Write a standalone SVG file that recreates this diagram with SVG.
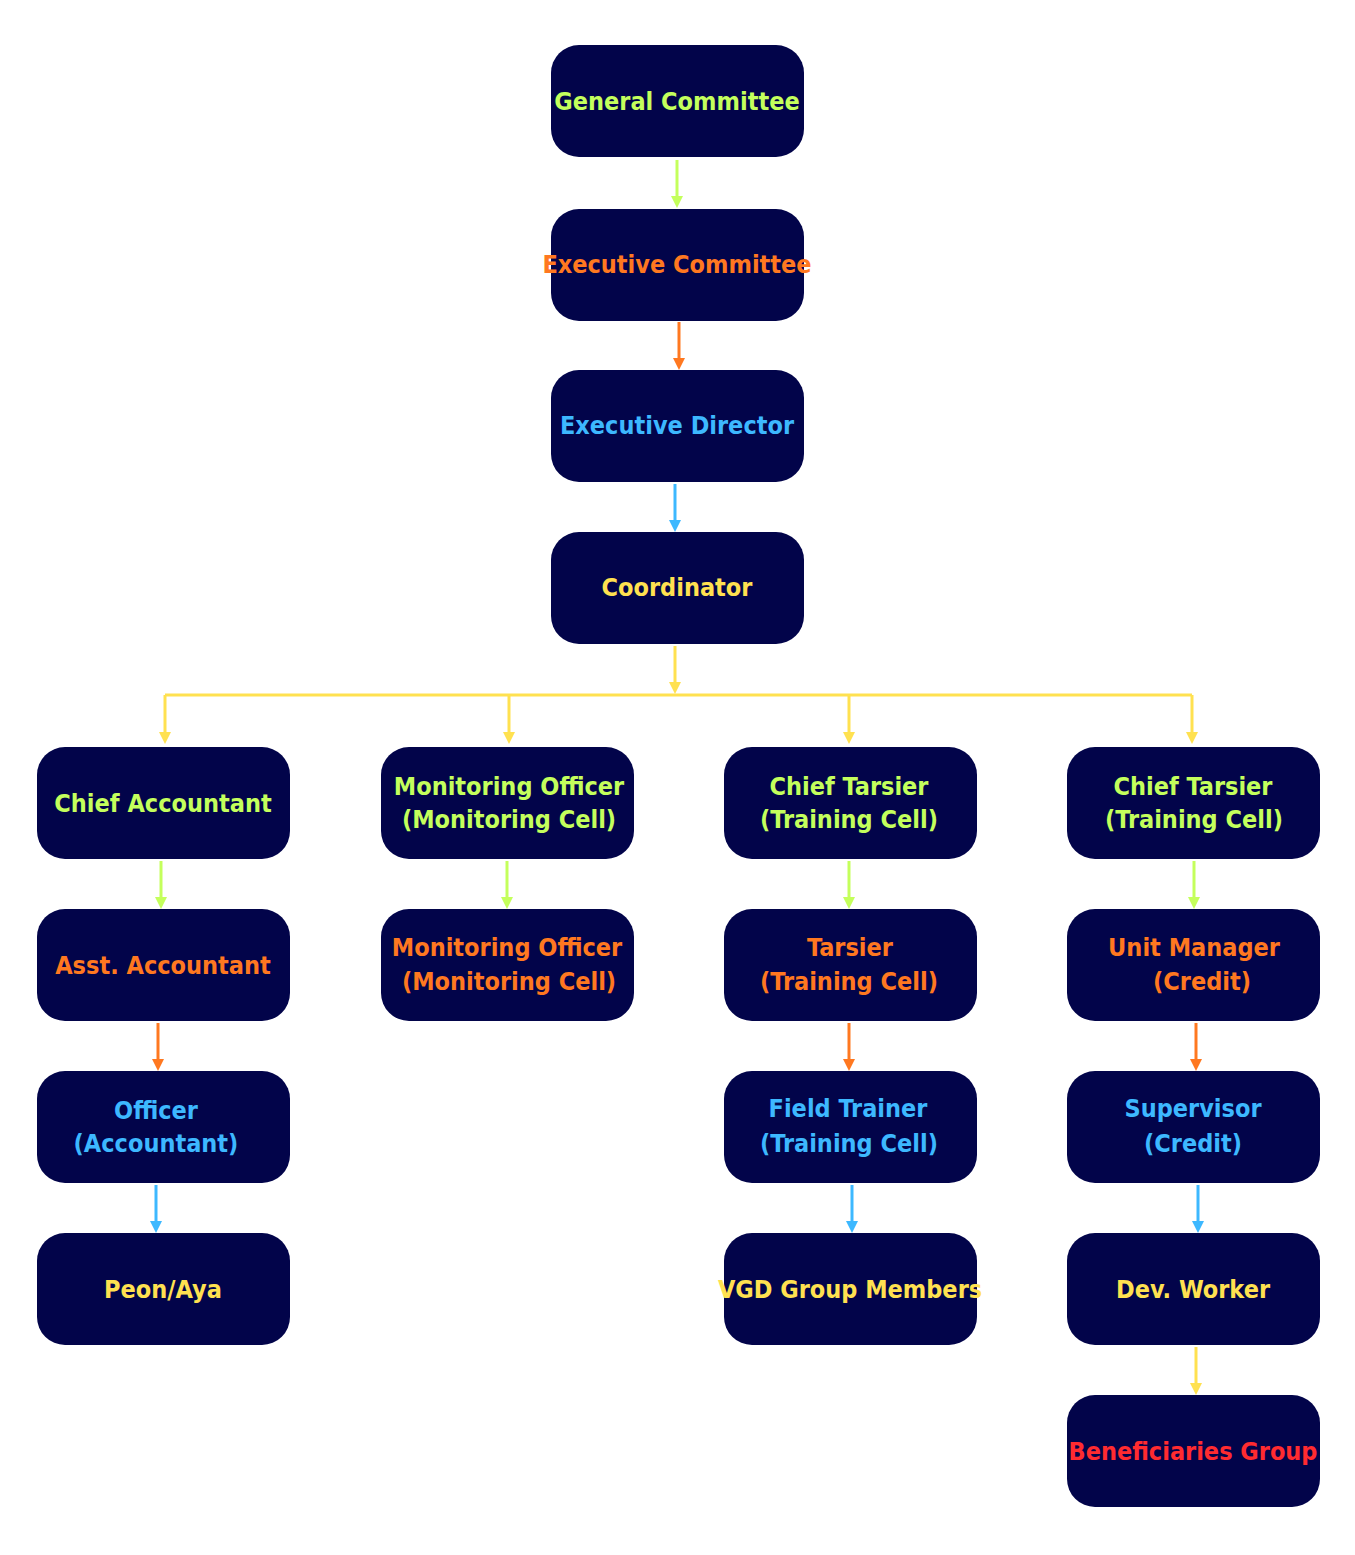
<svg xmlns="http://www.w3.org/2000/svg" width="1355" height="1555" viewBox="0 0 1355 1555">
<style>
.n{fill:#02044a}
text{font-family:"DejaVu Sans Condensed","Liberation Sans",sans-serif;font-weight:bold;font-size:25px;text-anchor:middle;font-stretch:condensed}
.g{fill:#c4ff5c}.o{fill:#ff7820}.b{fill:#3db8ff}.y{fill:#ffe150}.r{fill:#ff2b30}
.c{stroke-width:3;fill:none}
</style>
<defs>
<marker id="mg" markerWidth="4" markerHeight="4" refX="2" refY="2" orient="auto"><path d="M0,0L4,2L0,4z" fill="#c4ff5c"/></marker>
<marker id="mo" markerWidth="4" markerHeight="4" refX="2" refY="2" orient="auto"><path d="M0,0L4,2L0,4z" fill="#ff7820"/></marker>
<marker id="mb" markerWidth="4" markerHeight="4" refX="2" refY="2" orient="auto"><path d="M0,0L4,2L0,4z" fill="#3db8ff"/></marker>
<marker id="my" markerWidth="4" markerHeight="4" refX="2" refY="2" orient="auto"><path d="M0,0L4,2L0,4z" fill="#ffe150"/></marker>
</defs>
<g id="connectors">
<path class="c" stroke="#c4ff5c" marker-end="url(#mg)" d="M677,160V202"/>
<path class="c" stroke="#ff7820" marker-end="url(#mo)" d="M679,322V364"/>
<path class="c" stroke="#3db8ff" marker-end="url(#mb)" d="M675,484V526"/>
<path class="c" stroke="#ffe150" marker-end="url(#my)" d="M675,646V688"/>
<path class="c" stroke="#ffe150" d="M165,695H1192"/>
<path class="c" stroke="#ffe150" marker-end="url(#my)" d="M165,695V738"/>
<path class="c" stroke="#ffe150" marker-end="url(#my)" d="M509,695V738"/>
<path class="c" stroke="#ffe150" marker-end="url(#my)" d="M849,695V738"/>
<path class="c" stroke="#ffe150" marker-end="url(#my)" d="M1192,695V738"/>
<path class="c" stroke="#c4ff5c" marker-end="url(#mg)" d="M161,861V903"/>
<path class="c" stroke="#ff7820" marker-end="url(#mo)" d="M158,1023V1065"/>
<path class="c" stroke="#3db8ff" marker-end="url(#mb)" d="M156,1185V1227"/>
<path class="c" stroke="#c4ff5c" marker-end="url(#mg)" d="M507,861V903"/>
<path class="c" stroke="#c4ff5c" marker-end="url(#mg)" d="M849,861V903"/>
<path class="c" stroke="#ff7820" marker-end="url(#mo)" d="M849,1023V1065"/>
<path class="c" stroke="#3db8ff" marker-end="url(#mb)" d="M852,1185V1227"/>
<path class="c" stroke="#c4ff5c" marker-end="url(#mg)" d="M1194,861V903"/>
<path class="c" stroke="#ff7820" marker-end="url(#mo)" d="M1196,1023V1065"/>
<path class="c" stroke="#3db8ff" marker-end="url(#mb)" d="M1198,1185V1227"/>
<path class="c" stroke="#ffe150" marker-end="url(#my)" d="M1196,1347V1389"/>
</g>
<g id="gc"><rect class="n" x="551" y="45" width="253" height="112" rx="28"/><text class="g" x="677" y="110">General Committee</text></g>
<g id="ec"><rect class="n" x="551" y="209" width="253" height="112" rx="28"/><text class="o" x="677" y="273">Executive Committee</text></g>
<g id="ed"><rect class="n" x="551" y="370" width="253" height="112" rx="28"/><text class="b" x="677" y="434">Executive Director</text></g>
<g id="co"><rect class="n" x="551" y="532" width="253" height="112" rx="28"/><text class="y" x="677" y="596">Coordinator</text></g>
<g id="ca"><rect class="n" x="37" y="747" width="253" height="112" rx="28"/><text class="g" x="163" y="812">Chief Accountant</text></g>
<g id="aa"><rect class="n" x="37" y="909" width="253" height="112" rx="28"/><text class="o" x="163" y="974">Asst. Accountant</text></g>
<g id="oa"><rect class="n" x="37" y="1071" width="253" height="112" rx="28"/><text class="b" x="156" y="1119">Officer</text><text class="b" x="156" y="1152">(Accountant)</text></g>
<g id="pa"><rect class="n" x="37" y="1233" width="253" height="112" rx="28"/><text class="y" x="163" y="1298">Peon/Aya</text></g>
<g id="mo1"><rect class="n" x="381" y="747" width="253" height="112" rx="28"/><text class="g" x="509" y="795">Monitoring Officer</text><text class="g" x="509" y="828">(Monitoring Cell)</text></g>
<g id="mo2"><rect class="n" x="381" y="909" width="253" height="112" rx="28"/><text class="o" x="507" y="956">Monitoring Officer</text><text class="o" x="509" y="990">(Monitoring Cell)</text></g>
<g id="ct1"><rect class="n" x="724" y="747" width="253" height="112" rx="28"/><text class="g" x="849" y="795">Chief Tarsier</text><text class="g" x="849" y="828">(Training Cell)</text></g>
<g id="ta"><rect class="n" x="724" y="909" width="253" height="112" rx="28"/><text class="o" x="850" y="956">Tarsier</text><text class="o" x="849" y="990">(Training Cell)</text></g>
<g id="ft"><rect class="n" x="724" y="1071" width="253" height="112" rx="28"/><text class="b" x="848" y="1117">Field Trainer</text><text class="b" x="849" y="1152">(Training Cell)</text></g>
<g id="vgd"><rect class="n" x="724" y="1233" width="253" height="112" rx="28"/><text class="y" x="850" y="1298">VGD Group Members</text></g>
<g id="ct2"><rect class="n" x="1067" y="747" width="253" height="112" rx="28"/><text class="g" x="1193" y="795">Chief Tarsier</text><text class="g" x="1194" y="828">(Training Cell)</text></g>
<g id="um"><rect class="n" x="1067" y="909" width="253" height="112" rx="28"/><text class="o" x="1194" y="956">Unit Manager</text><text class="o" x="1202" y="990">(Credit)</text></g>
<g id="su"><rect class="n" x="1067" y="1071" width="253" height="112" rx="28"/><text class="b" x="1193" y="1117">Supervisor</text><text class="b" x="1193" y="1152">(Credit)</text></g>
<g id="dw"><rect class="n" x="1067" y="1233" width="253" height="112" rx="28"/><text class="y" x="1193" y="1298">Dev. Worker</text></g>
<g id="bg"><rect class="n" x="1067" y="1395" width="253" height="112" rx="28"/><text class="r" x="1193" y="1460">Beneficiaries Group</text></g>
</svg>
